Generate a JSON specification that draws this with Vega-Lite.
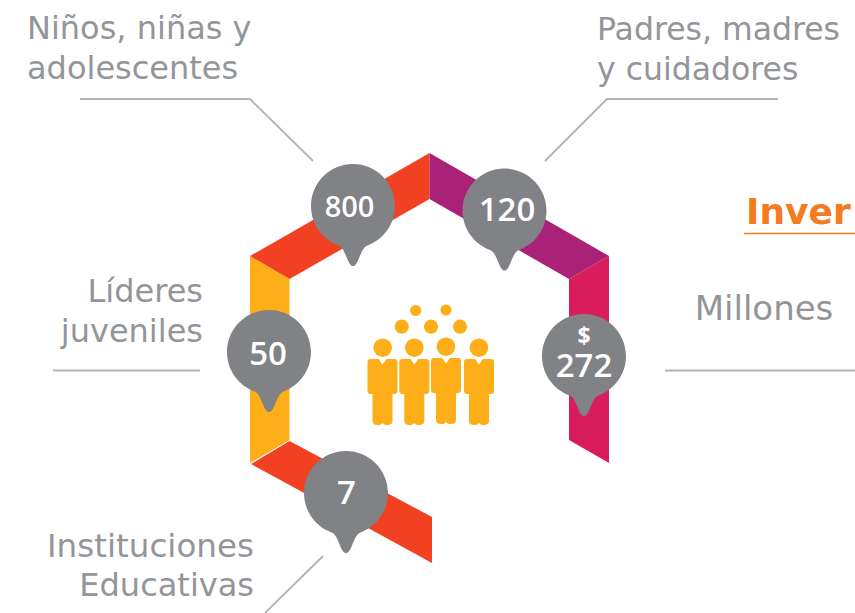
{
"$schema":"https://vega.github.io/schema/vega-lite/v6.json",
"width":855,"height":613,"padding":0,
"autosize":{"type":"none"},
"background":"#ffffff",
"config":{"view":{"stroke":null}},
"encoding":{
 "x":{"field":"x","type":"quantitative","scale":{"domain":[0,855],"nice":false,"zero":false},"axis":null},
 "y":{"field":"y","type":"quantitative","scale":{"domain":[613,0],"nice":false,"zero":false},"axis":null}
},
"layer":[
 {"data":{"values":[
  {"band":"a-yellow","x":250,"y":256,"yb":463},{"band":"a-yellow","x":289.5,"y":279,"yb":440},
  {"band":"b-red","x":250,"y":256,"yb":256},{"band":"b-red","x":289.5,"y":233.5,"yb":279},{"band":"b-red","x":429.5,"y":153,"yb":199},
  {"band":"c-purple","x":429.5,"y":153,"yb":199},{"band":"c-purple","x":569,"y":233,"yb":279},{"band":"c-purple","x":609,"y":256,"yb":256},
  {"band":"d-crimson","x":569,"y":279,"yb":440},{"band":"d-crimson","x":609,"y":256,"yb":463},
  {"band":"e-red","x":251,"y":464,"yb":464},{"band":"e-red","x":289.5,"y":441,"yb":485},{"band":"e-red","x":432,"y":517,"yb":563}
 ]},
 "mark":{"type":"area","orient":"vertical","opacity":1},
 "encoding":{
  "y2":{"field":"yb"},
  "color":{"field":"band","type":"nominal","legend":null,"scale":{"domain":["a-yellow","b-red","c-purple","d-crimson","e-red"],"range":["#FDAE19","#F14022","#A92277","#D91C5C","#F14022"]}}
 }},
 {"data":{"values":[
  {"g":"a","s":1,"x":80,"y":99},{"g":"a","s":2,"x":250,"y":99},{"g":"a","s":3,"x":313,"y":161},
  {"g":"b","s":1,"x":778,"y":99},{"g":"b","s":2,"x":607,"y":99},{"g":"b","s":3,"x":545,"y":161},
  {"g":"c","s":1,"x":53,"y":370.5},{"g":"c","s":2,"x":200,"y":370.5},
  {"g":"d","s":1,"x":665,"y":370.5},{"g":"d","s":2,"x":855,"y":370.5},
  {"g":"e","s":1,"x":323,"y":556},{"g":"e","s":2,"x":265,"y":613}
 ]},
 "mark":{"type":"line","color":"#B1B3B6","strokeWidth":1.8},
 "encoding":{"detail":{"field":"g"},"order":{"field":"s"}}},
 {"data":{"values":[{"g":"o","s":1,"x":744,"y":233.5},{"g":"o","s":2,"x":855,"y":233.5}]},
 "mark":{"type":"line","color":"#F47B20","strokeWidth":1.4},
 "encoding":{"detail":{"field":"g"},"order":{"field":"s"}}},
 {"data":{"values":[{"x":382.7,"y":347.7},{"x":414.3,"y":347.7},{"x":446,"y":346.7},{"x":479,"y":347.7}]},
 "mark":{"type":"point","filled":true,"opacity":1,"shape":"circle","size":346,"color":"#FDAE19"}},
 {"data":{"values":[{"x":401.7,"y":326.7},{"x":431,"y":326.7},{"x":460,"y":326.7}]},
 "mark":{"type":"point","filled":true,"opacity":1,"shape":"circle","size":201,"color":"#FDAE19"}},
 {"data":{"values":[{"x":415.7,"y":310.5},{"x":446,"y":310}]},
 "mark":{"type":"point","filled":true,"opacity":1,"shape":"circle","size":125,"color":"#FDAE19"}},
 {"data":{"values":[{"x":382.5,"y":392},{"x":414.3,"y":392},{"x":446,"y":391},{"x":479,"y":392}]},
 "mark":{"type":"point","filled":true,"opacity":1,"size":4356,"color":"#FDAE19",
  "shape":"M0 -0.83L-0.12 -1L-0.36 -1Q-0.4545 -1 -0.4545 -0.9L-0.4545 -0.03Q-0.4545 0.06 -0.36 0.06L-0.303 0.06L-0.303 0.88Q-0.303 1 -0.15 1Q-0.03 1 0 0.93Q0.03 1 0.15 1Q0.303 1 0.303 0.88L0.303 0.06L0.36 0.06Q0.4545 0.06 0.4545 -0.03L0.4545 -0.9Q0.4545 -1 0.36 -1L0.12 -1Z"}},
 {"data":{"values":[{"x":353,"y":206},{"x":504.5,"y":210.5},{"x":269,"y":352},{"x":584,"y":356},{"x":346,"y":493}]},
 "mark":{"type":"point","filled":true,"opacity":1,"size":7056,"color":"#808285",
  "shape":"M-0.33 0.944C-0.731 0.804 -1 0.425 -1 0C-1 -0.552 -0.552 -1 0 -1C0.552 -1 1 -0.552 1 0C1 0.425 0.731 0.804 0.33 0.944C0.2 1 0.15 1.3 0.06 1.4C0.03 1.44 -0.03 1.44 -0.06 1.4C-0.15 1.3 -0.2 1 -0.33 0.944Z"}},
 {"data":{"values":[
  {"label":"Niños, niñas y","x":27,"y":39},{"label":"adolescentes","x":27,"y":79}
 ]},
 "mark":{"type":"text","align":"left","baseline":"alphabetic","font":"DejaVu Sans","fontSize":32,"color":"#939598"},
 "encoding":{"text":{"field":"label"}}},
 {"data":{"values":[
  {"label":"Padres, madres","x":597,"y":40},{"label":"y cuidadores","x":597,"y":80}
 ]},
 "mark":{"type":"text","align":"left","baseline":"alphabetic","font":"DejaVu Sans","fontSize":31.5,"color":"#939598"},
 "encoding":{"text":{"field":"label"}}},
 {"data":{"values":[
  {"label":"Líderes","x":203,"y":302},{"label":"juveniles","x":203,"y":342},
  {"label":"Educativas","x":254,"y":596}
 ]},
 "mark":{"type":"text","align":"right","baseline":"alphabetic","font":"DejaVu Sans","fontSize":32,"color":"#939598"},
 "encoding":{"text":{"field":"label"}}},
 {"data":{"values":[{"label":"Instituciones","x":254,"y":557}]},
 "mark":{"type":"text","align":"right","baseline":"alphabetic","font":"DejaVu Sans","fontSize":32.6,"color":"#939598"},
 "encoding":{"text":{"field":"label"}}},
 {"data":{"values":[{"label":"Millones","x":764,"y":320}]},
 "mark":{"type":"text","align":"center","baseline":"alphabetic","font":"DejaVu Sans","fontSize":34,"color":"#939598"},
 "encoding":{"text":{"field":"label"}}},
 {"data":{"values":[{"label":"Inver","x":746,"y":224}]},
 "mark":{"type":"text","align":"left","baseline":"alphabetic","font":"DejaVu Sans","fontWeight":"bold","fontSize":36,"color":"#F47B20"},
 "encoding":{"text":{"field":"label"}}},
 {"data":{"values":[{"label":"800","x":349.5,"y":217}]},
 "mark":{"type":"text","align":"center","baseline":"alphabetic","font":"Open Sans","fontWeight":600,"fontSize":29,"color":"#ffffff"},
 "encoding":{"text":{"field":"label"}}},
 {"data":{"values":[{"label":"120","x":507,"y":221},{"label":"50","x":268,"y":365},{"label":"272","x":584,"y":377},{"label":"7","x":346.5,"y":504}]},
 "mark":{"type":"text","align":"center","baseline":"alphabetic","font":"Open Sans","fontWeight":600,"fontSize":33,"color":"#ffffff"},
 "encoding":{"text":{"field":"label"}}},
 {"data":{"values":[{"label":"$","x":584,"y":344}]},
 "mark":{"type":"text","align":"center","baseline":"alphabetic","font":"Open Sans","fontWeight":700,"fontSize":23,"color":"#ffffff"},
 "encoding":{"text":{"field":"label"}}}
]
}
